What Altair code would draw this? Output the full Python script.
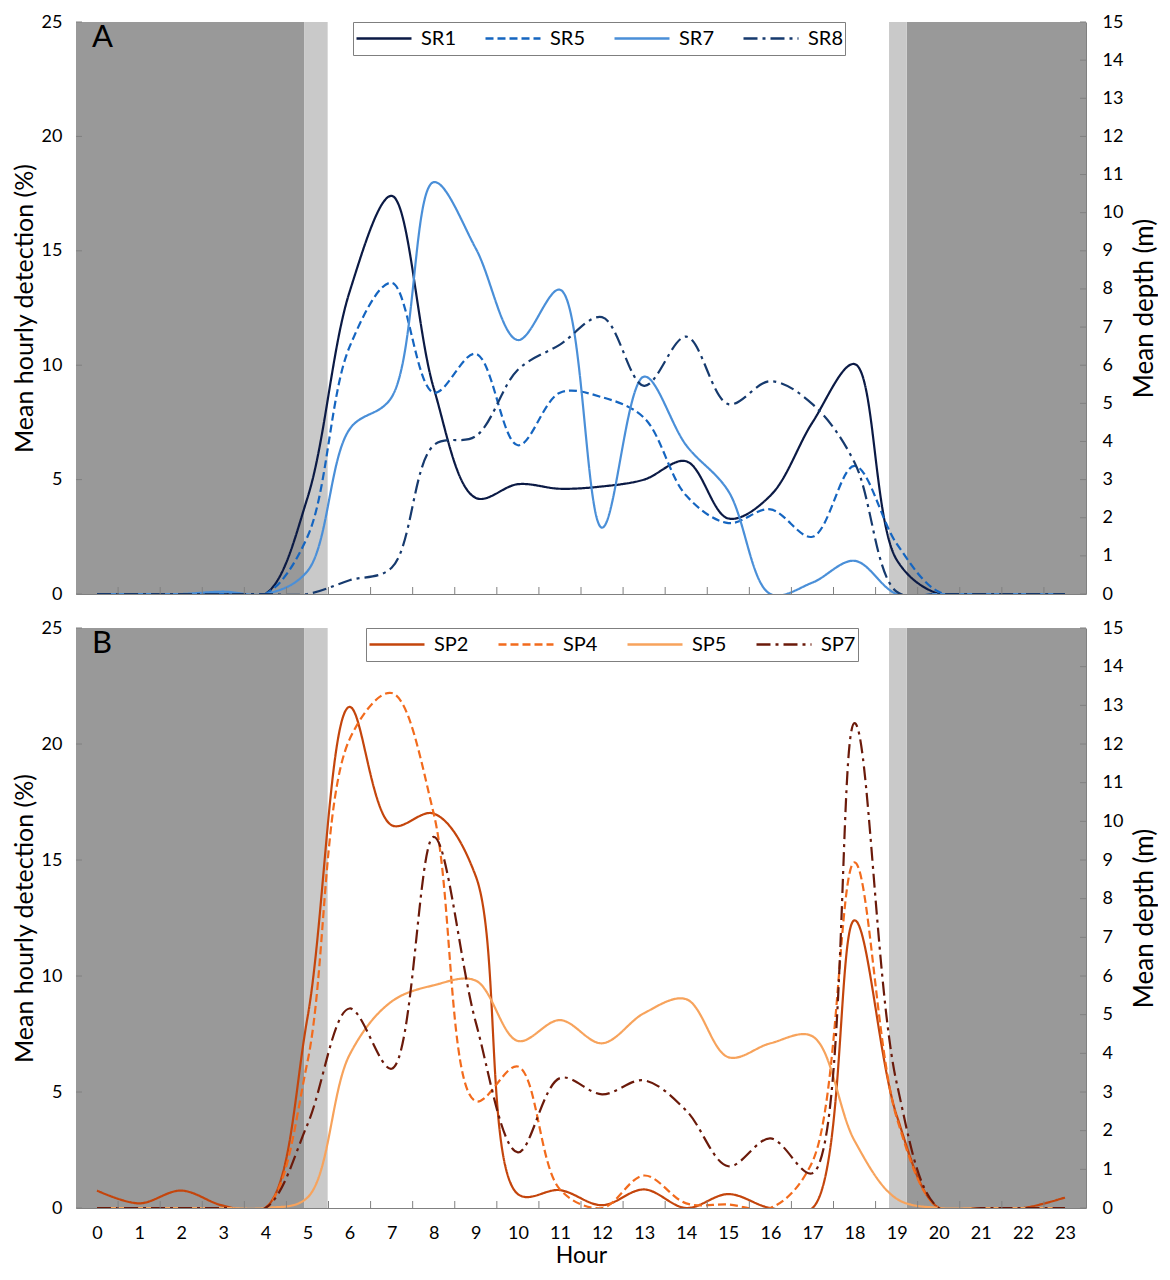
import altair as alt
import pandas as pd

FONT = "Lato"
hours = list(range(24))

# Panel A series
sr_names = ["SR1", "SR5", "SR7", "SR8"]
SR1 = [0, 0, 0, 0, 0, 4.2, 13.2, 17.4, 9.0, 4.2, 4.8, 4.6, 4.7, 5.0, 5.8, 3.3, 4.3, 7.5, 10.05, 1.5, 0, 0, 0, 0]
SR5 = [0, 0, 0, 0, 0, 2.5, 10.8, 13.6, 8.8, 10.5, 6.5, 8.8, 8.6, 7.7, 4.3, 3.1, 3.7, 2.5, 5.6, 2.2, 0.1, 0, 0, 0]
SR7 = [0, 0, 0, 0.1, 0, 1.0, 7.2, 8.6, 18.0, 15.1, 11.1, 13.3, 2.9, 9.5, 6.5, 4.5, 0, 0.5, 1.45, 0, 0, 0, 0, 0]
SR8 = [0, 0, 0, 0, 0, 0, 0.6, 1.15, 6.5, 6.9, 9.8, 10.9, 12.1, 9.1, 11.25, 8.3, 9.3, 8.3, 5.75, 0.1, 0, 0, 0, 0]
sr_colors = ["#0b1a45", "#1565c0", "#4a8fd8", "#163a6e"]

# Panel B series
sp_names = ["SP2", "SP4", "SP5", "SP7"]
SP2 = [0.75, 0.2, 0.75, 0.1, 0, 8.2, 21.6, 16.5, 17.0, 14.3, 0.6, 0.77, 0.12, 0.8, 0, 0.6, 0, 0, 12.4, 4.0, 0, 0, 0, 0.45]
SP4 = [0, 0, 0, 0, 0, 6.3, 20.2, 22.2, 17.0, 4.6, 6.1, 0.8, 0, 1.4, 0.2, 0.15, 0, 2.0, 14.9, 3.9, 0, 0, 0, 0]
SP5 = [0, 0, 0, 0, 0, 0.45, 6.6, 8.9, 9.6, 9.8, 7.2, 8.1, 7.1, 8.4, 9.0, 6.5, 7.1, 7.4, 2.9, 0.4, 0, 0, 0, 0]
SP7 = [0, 0, 0, 0, 0, 3.6, 8.6, 6.0, 16.0, 8.0, 2.4, 5.6, 4.9, 5.5, 4.2, 1.8, 3.0, 1.5, 20.9, 5.4, 0, 0, 0, 0]
sp_colors = ["#c4450c", "#f26b1d", "#f7a35c", "#6b1a0a"]

dash_styles = [[1, 0], [8, 4], [1, 0], [14, 5, 3, 5]]

# night / twilight shading (hours)
dark_start = [-0.5, 19.24]
dark_end = [4.92, 23.5]
light_start = [4.92, 18.82]
light_end = [5.48, 19.24]

left_ticks = [0, 5, 10, 15, 20, 25]
right_ticks = list(range(16))
x_tick_pos = [h + 0.5 for h in range(23)]

W = 1010
AX = "#808080"


def panel(names, series, colors, letter, legend_x, height, show_labels):
    rows = []
    for n, vals in zip(names, series):
        for h, v in zip(hours, vals):
            rows.append({"hour": h, "value": v, "series": n})
    df = pd.DataFrame(rows)

    xscale = alt.Scale(domain=[-0.5, 23.5], nice=False, zero=False)
    xaxis = alt.Axis(
        values=hours, ticks=False, grid=False, labels=show_labels,
        title="Hour" if show_labels else None,
        labelFontSize=18, labelPadding=16, titleFontSize=23, titlePadding=2,
        domainColor=AX, labelColor="#000", titleColor="#000",
    )

    dark = alt.Chart(pd.DataFrame({"a": dark_start, "b": dark_end})).mark_rect(color="#999999").encode(
        x=alt.X("a:Q", scale=xscale, axis=xaxis), x2="b:Q",
        y=alt.value(0), y2=alt.value(height))
    light = alt.Chart(pd.DataFrame({"a": light_start, "b": light_end})).mark_rect(color="#c9c9c9").encode(
        x=alt.X("a:Q", scale=xscale, axis=xaxis), x2="b:Q",
        y=alt.value(0), y2=alt.value(height))

    leg = alt.Legend(
        orient="none", legendX=legend_x, legendY=0, direction="horizontal", columns=4,
        title=None, symbolType="stroke", symbolSize=3025, symbolStrokeWidth=2.6,
        labelFontSize=20, labelFont=FONT, labelColor="#000", labelOffset=8,
        strokeColor="#7f7f7f", fillColor="white", padding=2, columnPadding=28,
        clipHeight=29,
    )
    lines = alt.Chart(df).mark_line(interpolate="catmull-rom", strokeWidth=2.2, clip=True).encode(
        x=alt.X("hour:Q", scale=xscale, axis=xaxis),
        y=alt.Y("value:Q", scale=alt.Scale(domain=[0, 25], nice=False),
                axis=alt.Axis(orient="left", values=left_ticks, ticks=False, grid=False,
                              title="Mean hourly detection (%)", labelFontSize=18, titleFontSize=25,
                              labelPadding=14, titlePadding=4, domainColor=AX,
                              labelColor="#000", titleColor="#000")),
        color=alt.Color("series:N", scale=alt.Scale(domain=names, range=colors), legend=leg),
        strokeDash=alt.StrokeDash("series:N", scale=alt.Scale(domain=names, range=dash_styles), legend=leg),
        order=alt.Order("hour:Q"),
    )

    bt = alt.Chart(pd.DataFrame({"v": x_tick_pos})).mark_rule(color=AX, strokeWidth=1).encode(
        x=alt.X("v:Q", scale=xscale, axis=xaxis),
        y=alt.value(height - 7), y2=alt.value(height))
    lt = alt.Chart(pd.DataFrame({"v": left_ticks})).mark_rule(color=AX, strokeWidth=1).encode(
        y=alt.Y("v:Q", scale=alt.Scale(domain=[0, 25], nice=False), axis=None),
        x=alt.value(0), x2=alt.value(6))
    rt = alt.Chart(pd.DataFrame({"v": right_ticks})).mark_rule(color=AX, strokeWidth=1).encode(
        y=alt.Y("v:Q", scale=alt.Scale(domain=[0, 15], nice=False),
                axis=alt.Axis(orient="right", values=right_ticks, ticks=False, grid=False,
                              title="Mean depth (m)", titleAngle=270, titleBaseline="top",
                              labelFontSize=18, titleFontSize=26, labelPadding=16, titlePadding=9,
                              domainColor=AX, labelColor="#000", titleColor="#000")),
        x=alt.value(W - 6), x2=alt.value(W))
    txt = alt.Chart(pd.DataFrame({"t": [letter]})).mark_text(
        align="left", baseline="top", fontSize=31, font=FONT, color="#000").encode(
        text="t:N", x=alt.value(16), y=alt.value(1))

    return alt.layer(dark, light, lines, bt, lt, rt, txt).resolve_scale(y="independent").properties(
        width=W, height=height)


pA = panel(sr_names, [SR1, SR5, SR7, SR8], sr_colors, "A", 277, 572, False)
pB = panel(sp_names, [SP2, SP4, SP5, SP7], sp_colors, "B", 290, 580, True)

chart = alt.vconcat(pA, pB, spacing=16).resolve_scale(
    color="independent", strokeDash="independent", y="independent", x="independent"
).properties(
    padding={"left": 4, "top": 5, "right": 0, "bottom": 0}
).configure(
    font=FONT,
).configure_view(stroke=None).configure_axis(
    labelFont=FONT, titleFont=FONT, titleFontWeight="normal"
)

chart.save("out.html", embed_options={"renderer": "svg", "actions": False})
